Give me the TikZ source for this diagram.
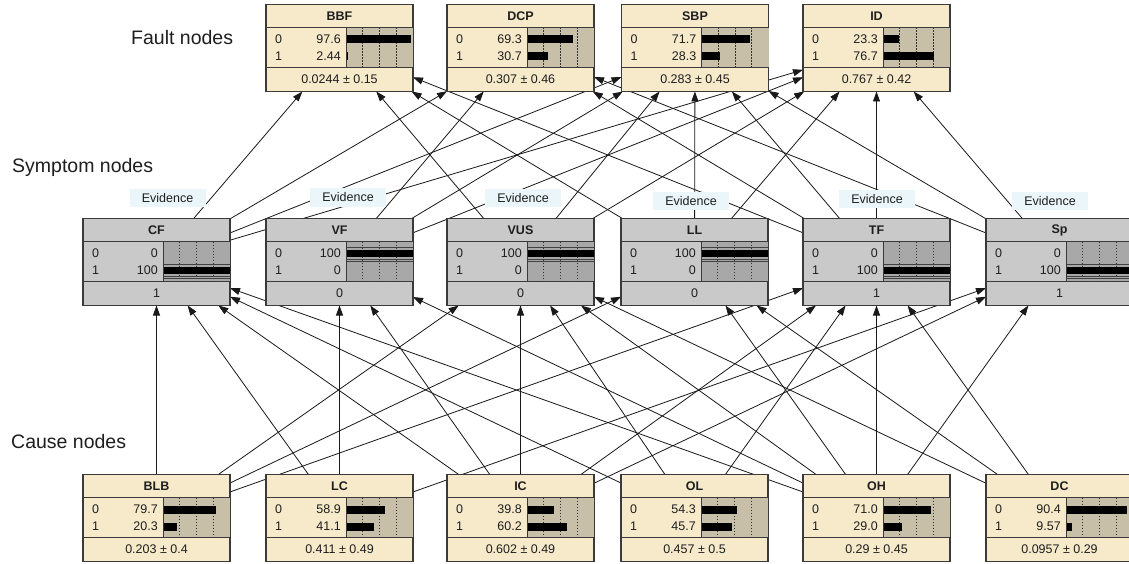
\documentclass[tikz,border=0pt]{standalone}
\usepackage{fontspec}
\setmainfont{Liberation Sans}
\usetikzlibrary{arrows.meta,calc}
\pgfdeclarelayer{bg}
\pgfsetlayers{bg,main}
\definecolor{beige}{HTML}{F6EACB}
\definecolor{tanbar}{HTML}{C8BFA9}
\definecolor{symgray}{HTML}{C9C9C9}
\definecolor{symbar}{HTML}{A8A8A8}
\definecolor{evid}{HTML}{EAF6FA}
\definecolor{bord}{HTML}{3A3A3A}
\definecolor{txt}{HTML}{1E1E1E}
\tikzset{
  box/.style={draw=bord, line width=1.1pt, minimum width=147pt, minimum height=87pt, inner sep=0pt, outer sep=0pt},
  edge/.style={line width=0.8pt, draw=black!90, -{Triangle[length=10pt,width=7pt]}},
  evlabel/.style={fill=evid, inner sep=0pt, minimum width=76pt, minimum height=18pt, text=txt, font=\fontsize{12.5}{14}\selectfont},
  layertext/.style={anchor=west, inner sep=0pt, text=txt, font=\fontsize{19.5}{22}\selectfont},
  small/.style={inner sep=0pt, text=txt, font=\fontsize{12.5}{14}\selectfont},
  titletext/.style={inner sep=0pt, text=txt, font=\fontsize{12.5}{14}\selectfont\bfseries},
  sep/.style={draw=bord, line width=0.9pt},
  tick/.style={draw=black!80, line width=0.6pt, dash pattern=on 1.5pt off 1.5pt}
}
% #1 fill, #2 bar fill, #3 name, #4 x, #5 y, #6 title, #7 v0, #8 v1, #9 mean
\newcommand{\bnbox}[9]{%
  \node[box, fill=#1] (#3) at (#4,#5) {};
  \begin{scope}[shift={(#4-73.5,#5-43.5)}]
    \fill[#2] (80,23) rectangle (147,63);
    \foreach \k in {1,2,3} \draw[tick] ({80+16.75*\k},23) -- ({80+16.75*\k},63);
    \fill[black] (80,31) rectangle ({80+#7*0.67},39);
    \fill[black] (80,48) rectangle ({80+#8*0.67},56);
    \draw[sep] (0,23) -- (147,23) (0,63) -- (147,63) (80,23) -- (80,63);
    \node[small, anchor=west] at (9,35) {0};
    \node[small, anchor=west] at (9,52) {1};
    \node[small, anchor=east] at (75,35) {#7};
    \node[small, anchor=east] at (75,52) {#8};
    \node[titletext] at (73.5,12) {#6};
    \node[small] at (73.5,75) {#9};
  \end{scope}
}
% evidence-type node: #8 row (35 or 52) of full bar
\newcommand{\evbox}[8]{%
  \node[box, fill=symgray] (#1) at (#2,#3) {};
  \begin{scope}[shift={(#2-73.5,#3-43.5)}]
    \fill[symbar] (80,23) rectangle (147,63);
    \foreach \k in {1,2,3} \draw[tick] ({80+16.75*\k},23) -- ({80+16.75*\k},63);
    \draw[black!75, line width=0.6pt] (80,#8-6) -- (147,#8-6) (80,#8+5.5) -- (147,#8+5.5) (80,#8+8) -- (147,#8+8);
    \fill[black] (80,#8-4) rectangle (147,#8+3.5);
    \draw[sep] (0,23) -- (147,23) (0,63) -- (147,63) (80,23) -- (80,63);
    \node[small, anchor=west] at (9,35) {0};
    \node[small, anchor=west] at (9,52) {1};
    \node[small, anchor=east] at (75,35) {#5};
    \node[small, anchor=east] at (75,52) {#6};
    \node[titletext] at (73.5,12) {#4};
    \node[small] at (73.5,75) {#7};
  \end{scope}
}
\begin{document}
\begin{tikzpicture}[x=1pt,y=-1pt]
\useasboundingbox (0,0) rectangle (1129,564);
% fault nodes
\bnbox{beige}{tanbar}{BBF}{339.5}{48}{BBF}{97.6}{2.44}{0.0244 ± 0.15}
\bnbox{beige}{tanbar}{DCP}{520.5}{48}{DCP}{69.3}{30.7}{0.307 ± 0.46}
\bnbox{beige}{tanbar}{SBP}{695}{48}{SBP}{71.7}{28.3}{0.283 ± 0.45}
\bnbox{beige}{tanbar}{ID}{876.5}{48}{ID}{23.3}{76.7}{0.767 ± 0.42}
% symptom nodes
\evbox{CF}{156.5}{262}{CF}{0}{100}{1}{52}
\evbox{VF}{339.5}{262}{VF}{100}{0}{0}{35}
\evbox{VUS}{520.5}{262}{VUS}{100}{0}{0}{35}
\evbox{LL}{694.5}{262}{LL}{100}{0}{0}{35}
\evbox{TF}{876.5}{262}{TF}{0}{100}{1}{52}
\evbox{Sp}{1059.5}{262}{Sp}{0}{100}{1}{52}
% cause nodes
\bnbox{beige}{tanbar}{BLB}{156.5}{518}{BLB}{79.7}{20.3}{0.203 ± 0.4}
\bnbox{beige}{tanbar}{LC}{339.5}{518}{LC}{58.9}{41.1}{0.411 ± 0.49}
\bnbox{beige}{tanbar}{IC}{520.5}{518}{IC}{39.8}{60.2}{0.602 ± 0.49}
\bnbox{beige}{tanbar}{OL}{694.5}{518}{OL}{54.3}{45.7}{0.457 ± 0.5}
\bnbox{beige}{tanbar}{OH}{876.5}{518}{OH}{71.0}{29.0}{0.29 ± 0.45}
\bnbox{beige}{tanbar}{DC}{1059.5}{518}{DC}{90.4}{9.57}{0.0957 ± 0.29}
% layer labels
\node[layertext] (lf) at (131,38) {Fault nodes};
\node[layertext] (ls) at (12,167) {Symptom nodes};
\node[layertext] (lc) at (11,442) {Cause nodes};
% evidence labels
\node[evlabel] (eCF) at (167.5,198) {Evidence};
\node[evlabel] (eVF) at (348,197.5) {Evidence};
\node[evlabel] (eVUS) at (523,198) {Evidence};
\node[evlabel] (eLL) at (691,201) {Evidence};
\node[evlabel] (eTF) at (877,199) {Evidence};
\node[evlabel] (eSp) at (1050,201) {Evidence};
% links
\begin{pgfonlayer}{bg}
\fill[white] (0,0) rectangle (1129,564);
\foreach \a/\b in {BLB/CF, BLB/VUS, BLB/LL, BLB/TF,
  LC/CF, LC/VF, LC/Sp,
  IC/CF, IC/VF, IC/VUS, IC/TF, IC/Sp,
  OL/CF, OL/VUS, OL/TF,
  OH/CF, OH/VF, OH/VUS, OH/LL, OH/TF, OH/Sp,
  DC/VUS, DC/LL, DC/TF,
  CF/BBF, CF/DCP, CF/SBP, CF/ID,
  VF/DCP, VF/SBP, VF/ID,
  VUS/BBF, VUS/SBP, VUS/ID,
  LL/BBF, LL/SBP, LL/ID,
  TF/BBF, TF/DCP, TF/SBP, TF/ID,
  Sp/DCP, Sp/SBP, Sp/ID}
  \draw[edge] (\a) -- (\b);
\end{pgfonlayer}
\end{tikzpicture}
\end{document}
